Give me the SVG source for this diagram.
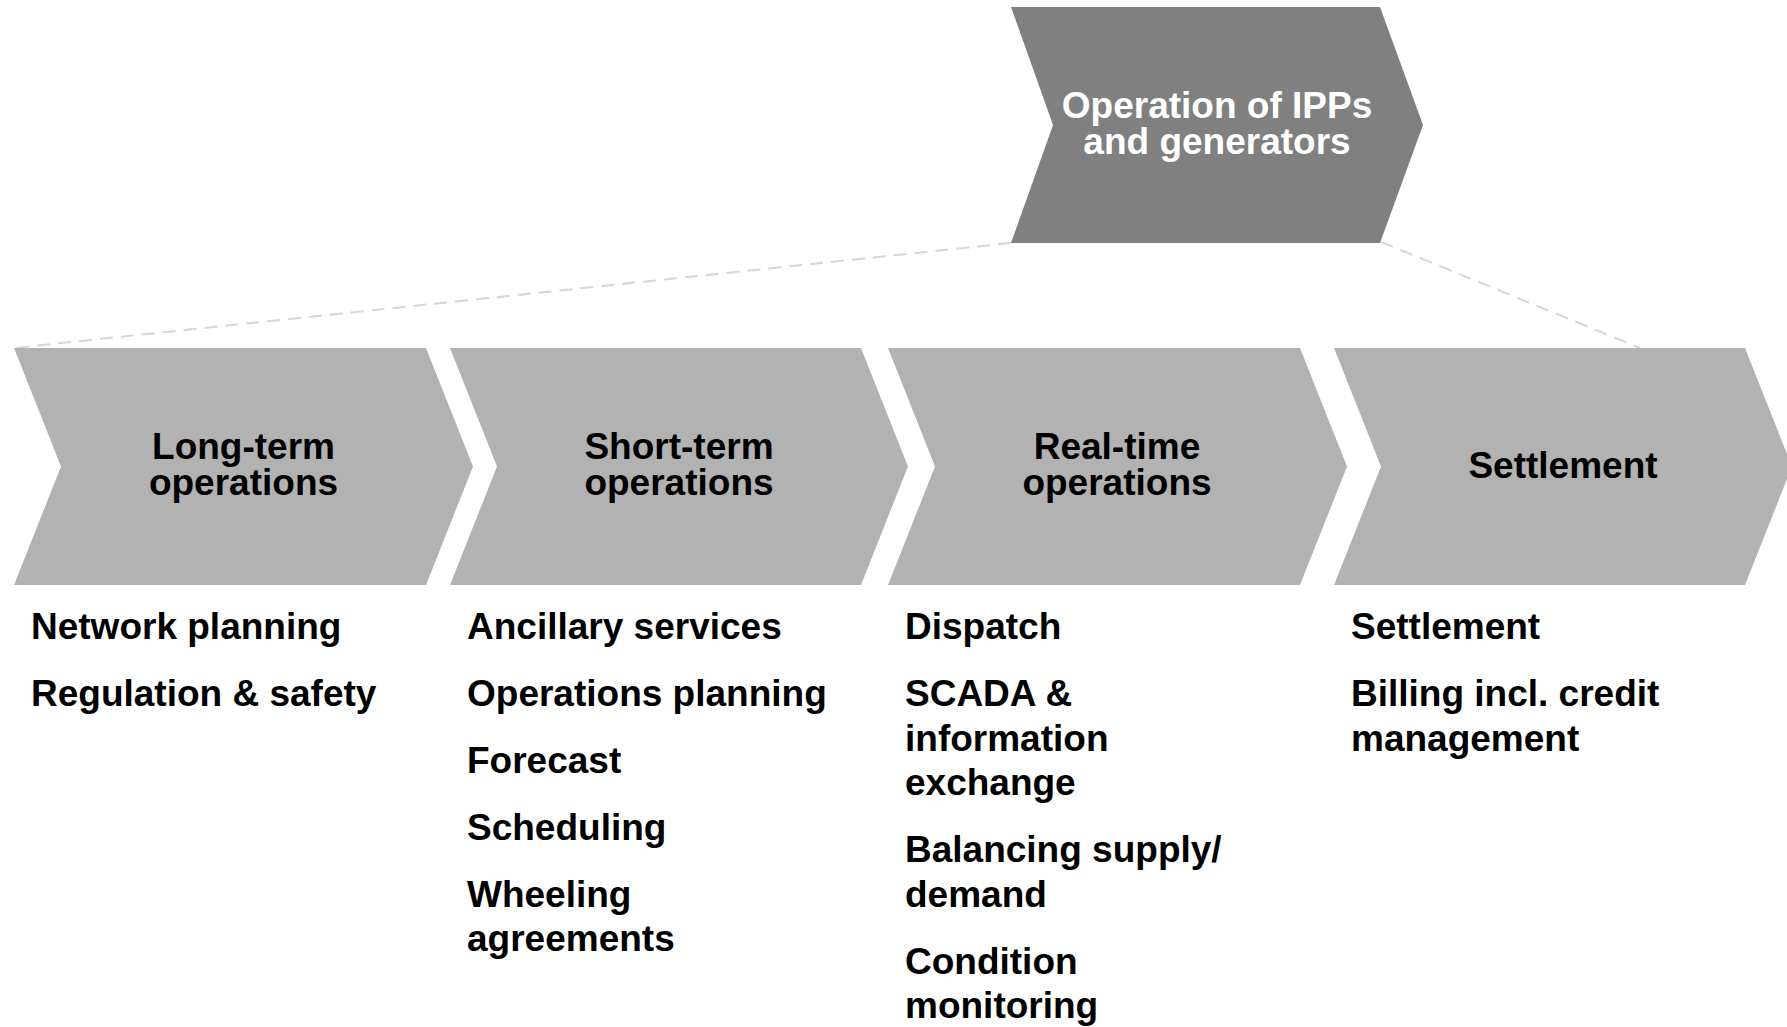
<svg xmlns="http://www.w3.org/2000/svg" width="1787" height="1027" viewBox="0 0 1787 1027">
  <style>
    .bg { fill: #ffffff; }
    .chev-top { fill: #808080; }
    .chev { fill: #b2b2b2; }
    .lbl { font-family: "Liberation Sans", Arial, Helvetica, sans-serif; font-weight: bold; font-size: 37px; }
    .lbl-w { fill: #ffffff; text-anchor: middle; }
    .lbl-b { fill: #000000; text-anchor: middle; }
    .item { fill: #000000; }
    .dash { fill: none; stroke: #d6d6d6; stroke-width: 2; stroke-dasharray: 13 8; }
  </style>

  <rect class="bg" x="0" y="0" width="1787" height="1027"/>

  <!-- dashed zoom lines from the top stage to the process row -->
  <g id="connectors">
    <line class="dash" x1="1011" y1="243" x2="14" y2="348"/>
    <line class="dash" x1="1381" y1="242" x2="1640" y2="348"/>
  </g>

  <!-- top stage -->
  <g id="node-ipp">
    <polygon class="chev-top" points="1011,7 1380,7 1423,125 1380,243 1011,243 1053,125"/>
    <text class="lbl lbl-w" x="1217" y="118">Operation of IPPs</text>
    <text class="lbl lbl-w" x="1217" y="154">and generators</text>
  </g>

  <!-- process row -->
  <g id="node-long-term">
    <polygon class="chev" points="14,348 426,348 473,466.5 426,585 14,585 61,466.5"/>
    <text class="lbl lbl-b" x="243.5" y="459">Long-term</text>
    <text class="lbl lbl-b" x="243.5" y="495">operations</text>
  </g>

  <g id="node-short-term">
    <polygon class="chev" points="450,348 861,348 908,466.5 861,585 450,585 497,466.5"/>
    <text class="lbl lbl-b" x="679" y="459">Short-term</text>
    <text class="lbl lbl-b" x="679" y="495">operations</text>
  </g>

  <g id="node-real-time">
    <polygon class="chev" points="888,348 1300,348 1347,466.5 1300,585 888,585 935,466.5"/>
    <text class="lbl lbl-b" x="1117" y="459">Real-time</text>
    <text class="lbl lbl-b" x="1117" y="495">operations</text>
  </g>

  <g id="node-settlement">
    <polygon class="chev" points="1334,348 1745,348 1792,466.5 1745,585 1334,585 1381,466.5"/>
    <text class="lbl lbl-b" x="1563" y="478">Settlement</text>
  </g>

  <!-- activity lists under each stage -->
  <g id="list-long-term">
    <text class="lbl item" x="31" y="639">Network planning</text>
    <text class="lbl item" x="31" y="706">Regulation &amp; safety</text>
  </g>

  <g id="list-short-term">
    <text class="lbl item" x="467" y="639">Ancillary services</text>
    <text class="lbl item" x="467" y="706">Operations planning</text>
    <text class="lbl item" x="467" y="773">Forecast</text>
    <text class="lbl item" x="467" y="840">Scheduling</text>
    <text class="lbl item" x="467" y="906.5">Wheeling</text>
    <text class="lbl item" x="467" y="951">agreements</text>
  </g>

  <g id="list-real-time">
    <text class="lbl item" x="905" y="639">Dispatch</text>
    <text class="lbl item" x="905" y="706">SCADA &amp;</text>
    <text class="lbl item" x="905" y="750.5">information</text>
    <text class="lbl item" x="905" y="795">exchange</text>
    <text class="lbl item" x="905" y="862">Balancing supply/</text>
    <text class="lbl item" x="905" y="906.5">demand</text>
    <text class="lbl item" x="905" y="973.5">Condition</text>
    <text class="lbl item" x="905" y="1018">monitoring</text>
  </g>

  <g id="list-settlement">
    <text class="lbl item" x="1351" y="639">Settlement</text>
    <text class="lbl item" x="1351" y="706">Billing incl. credit</text>
    <text class="lbl item" x="1351" y="750.5">management</text>
  </g>
</svg>
